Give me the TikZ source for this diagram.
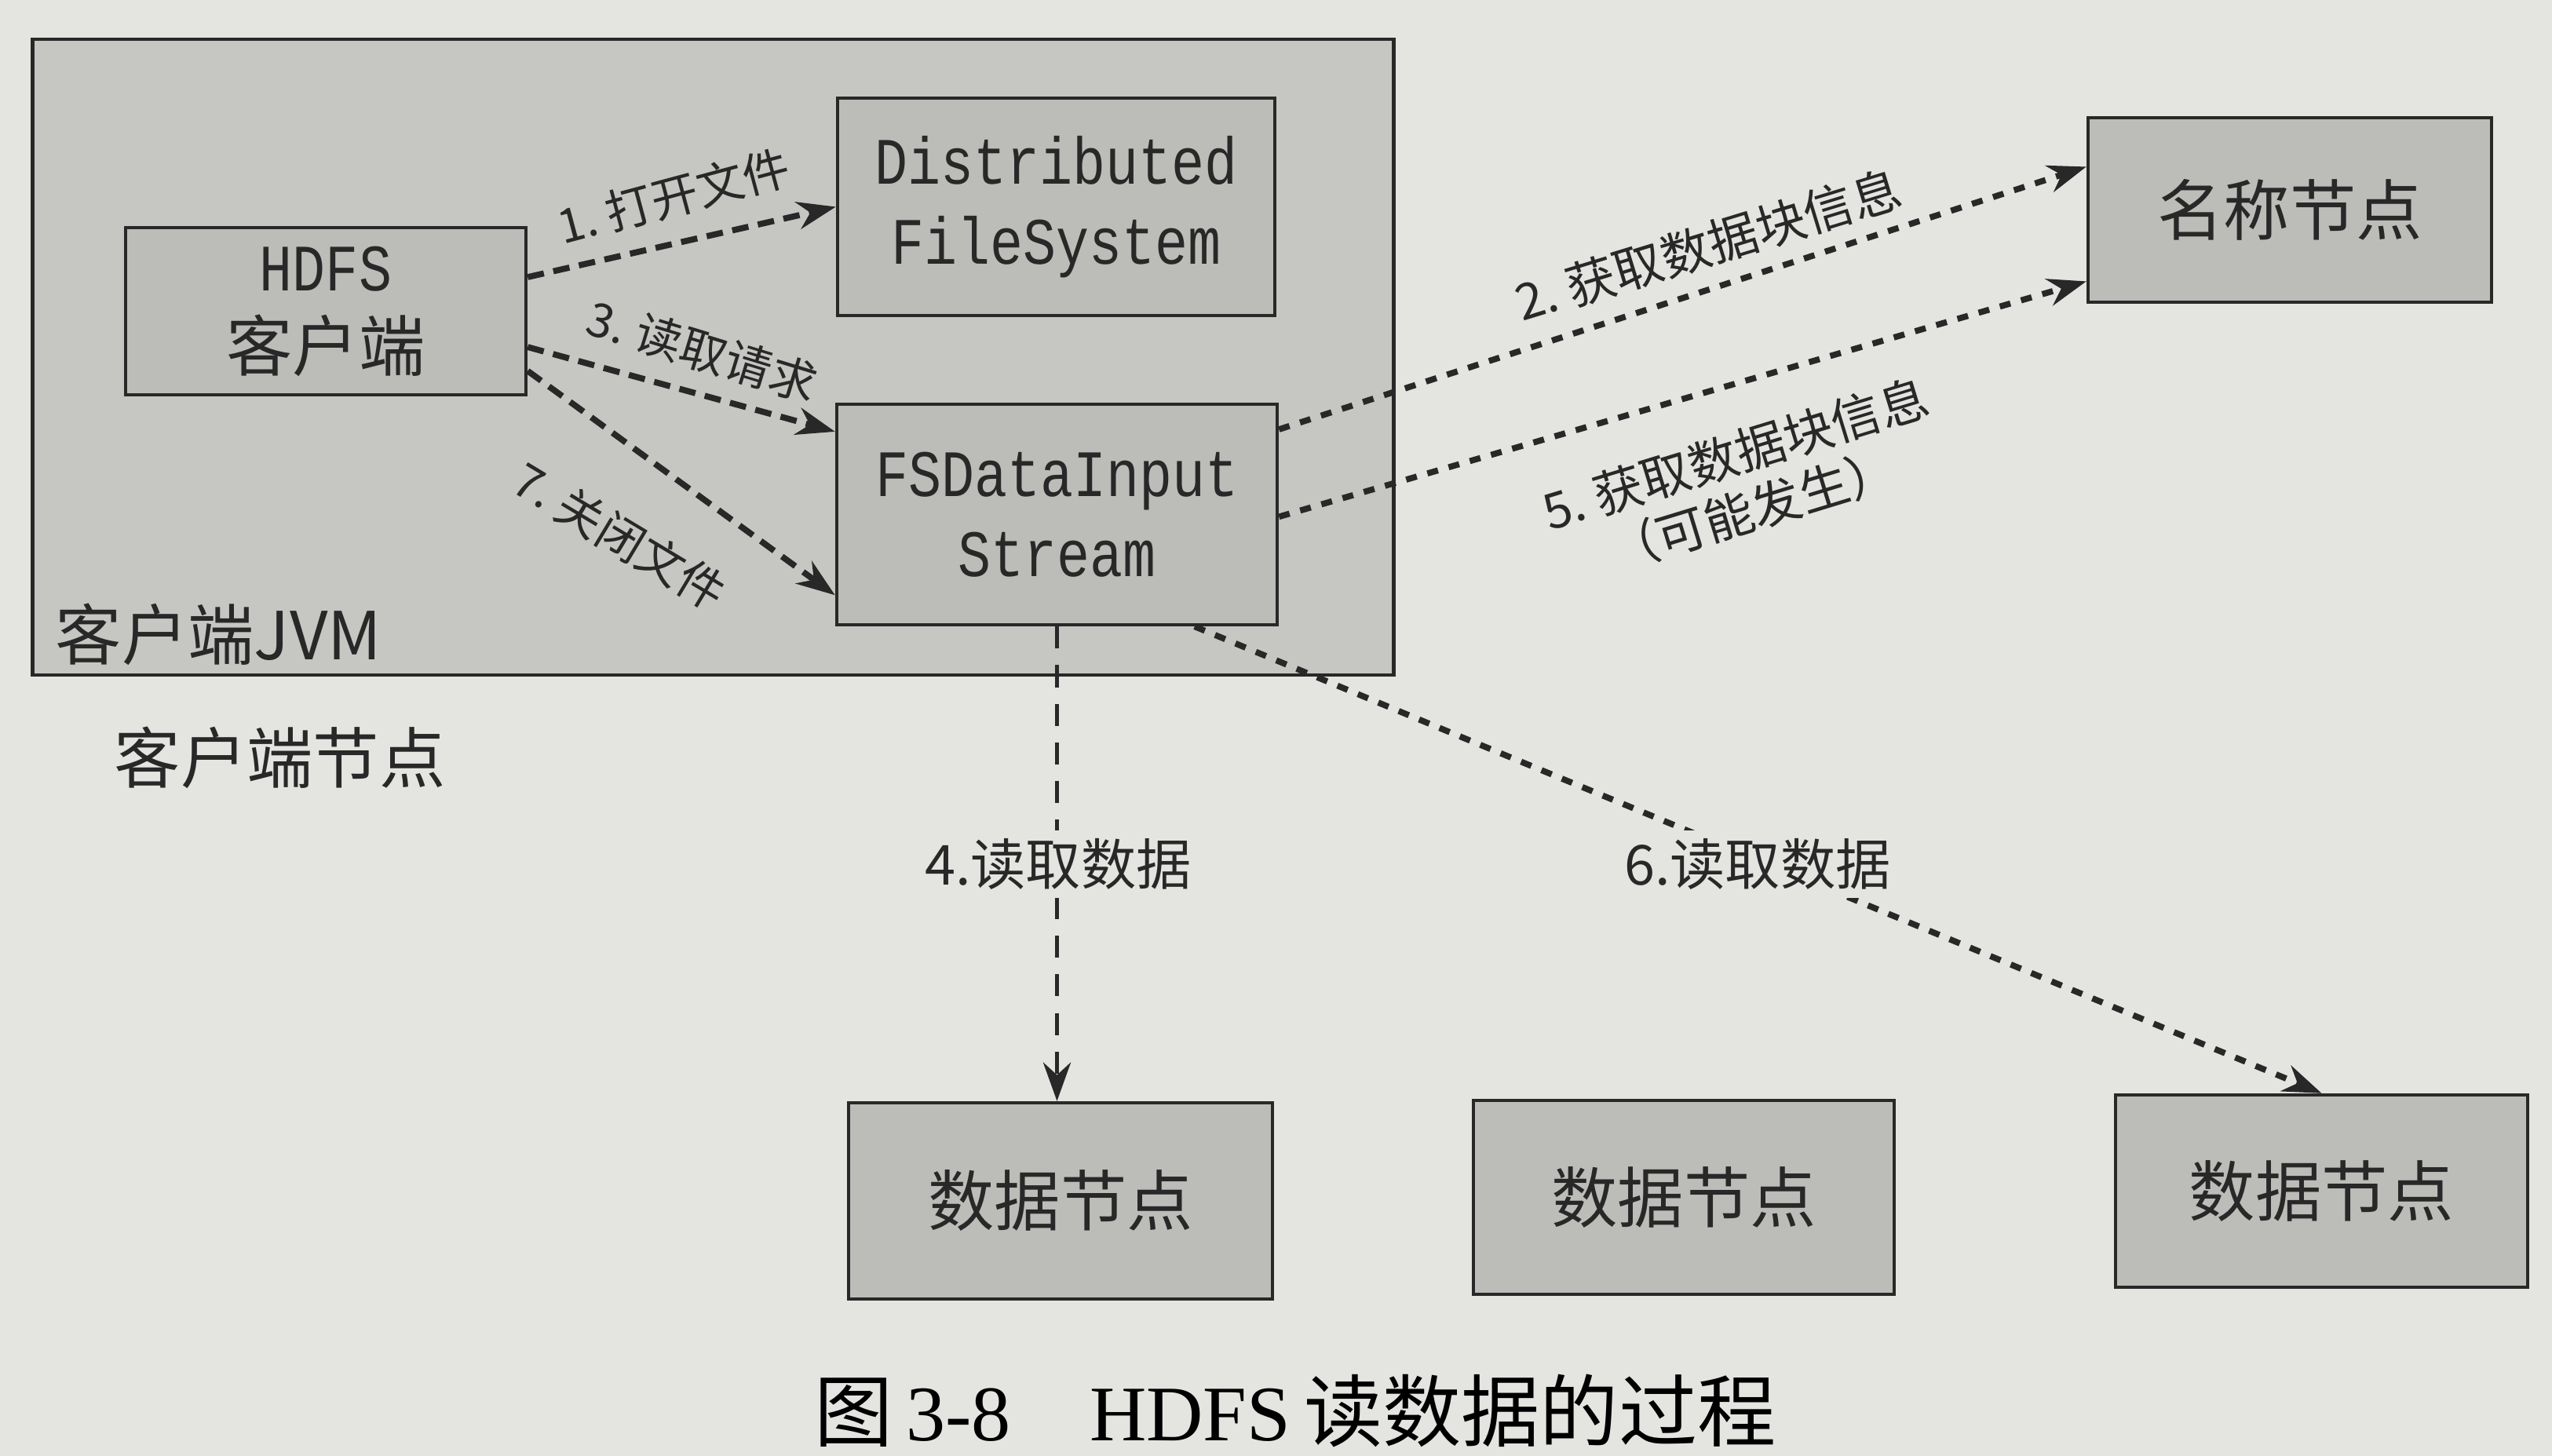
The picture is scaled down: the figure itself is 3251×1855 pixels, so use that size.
\documentclass[tikz,border=0pt]{standalone}
\usepackage{fontspec}
\setmainfont{Liberation Serif}
\newfontfamily\cjk{Noto Sans CJK SC}
\newfontfamily\mono[FakeStretch=0.83]{Liberation Mono}
\usetikzlibrary{arrows.meta,calc}
\definecolor{pagebg}{RGB}{228,228,225}
\definecolor{jvmfill}{RGB}{198,198,195}
\definecolor{boxfill}{RGB}{188,188,185}
\definecolor{ink}{RGB}{40,40,40}
\begin{document}
\begin{tikzpicture}[x=0.01cm,y=-0.01cm,
  box/.style={draw=ink, line width=1.2pt, fill=boxfill, text=ink, align=center, inner sep=0pt},
  jvmbox/.style={draw=ink, line width=1.2pt, fill=jvmfill, inner sep=0pt},
  boxtxt/.style={font=\fontsize{24pt}{29pt}\selectfont},
  conn/.style={draw=ink, line width=2.2pt, dash pattern=on 6pt off 3.5pt, -{Stealth[length=14pt,width=10pt]}},
  connfine/.style={draw=ink, line width=2.2pt, dash pattern=on 4pt off 4pt, -{Stealth[length=14pt,width=10pt]}},
  connlong/.style={draw=ink, line width=1.5pt, dash pattern=on 8pt off 6pt, -{Stealth[length=14pt,width=10pt]}},
  lab/.style={text=ink, font=\cjk\fontsize{17pt}{20pt}\selectfont, inner sep=1pt},
  biglab/.style={text=ink, font=\cjk\fontsize{18pt}{21pt}\selectfont, inner sep=1pt, align=center},
  onlab/.style={text=ink, font=\cjk\fontsize{20pt}{23pt}\selectfont, fill=pagebg, inner sep=3pt}
]
\useasboundingbox (0,0) rectangle (3251,1855);
\fill[pagebg] (0,0) rectangle (3251,1855);

% client JVM container
\node[jvmbox, minimum width=17.33cm, minimum height=8.10cm] (jvm) at (908.5,455) {};
\node[text=ink, font=\cjk\fontsize{24pt}{28pt}\selectfont, anchor=west, inner sep=0pt] (jvmlab) at (70,808) {客户端JVM};
\node[text=ink, font=\cjk\fontsize{24pt}{28pt}\selectfont, anchor=west, inner sep=0pt] (nodelab) at (145,965) {客户端节点};

% boxes
\node[box, boxtxt, minimum width=5.10cm, minimum height=2.13cm] (hdfs) at (415,396.5) {{\mono HDFS}\\{\cjk 客户端}};
\node[box, boxtxt, minimum width=5.57cm, minimum height=2.77cm] (dfs) at (1345.5,263.5) {\mono Distributed\\\mono FileSystem};
\node[box, boxtxt, minimum width=5.61cm, minimum height=2.81cm] (fsd) at (1346.5,655.5) {\mono FSDataInput\\\mono Stream};
\node[box, font=\cjk\fontsize{24pt}{28pt}\selectfont, minimum width=5.14cm, minimum height=2.35cm] (name) at (2917,267.5) {名称节点};
\node[box, font=\cjk\fontsize{24pt}{28pt}\selectfont, minimum width=5.40cm, minimum height=2.50cm] (dn1) at (1351,1530) {数据节点};
\node[box, font=\cjk\fontsize{24pt}{28pt}\selectfont, minimum width=5.36cm, minimum height=2.47cm] (dn2) at (2145,1525.5) {数据节点};
\node[box, font=\cjk\fontsize{24pt}{28pt}\selectfont, minimum width=5.25cm, minimum height=2.45cm] (dn3) at (2957.5,1517.5) {数据节点};

% connectors inside JVM
\draw[conn] ($(hdfs.north east)!0.30!(hdfs.south east)$) -- (dfs.west);
\draw[conn] ($(hdfs.north east)!0.71!(hdfs.south east)$) -- ($(fsd.north west)!0.13!(fsd.south west)$);
\draw[conn] ($(hdfs.north east)!0.85!(hdfs.south east)$) -- ($(fsd.north west)!0.86!(fsd.south west)$);

% to name node
\draw[connfine] ($(fsd.north east)!0.12!(fsd.south east)$) -- ($(name.north west)!0.27!(name.south west)$);
\draw[connfine] ($(fsd.north east)!0.51!(fsd.south east)$) -- ($(name.north west)!0.88!(name.south west)$);

% to data nodes
\draw[connlong] (fsd.south) -- (fsd.south |- dn1.north);
\draw[connfine] ($(fsd.south west)!0.81!(fsd.south east)$) -- (dn3.north);

% labels
\node[lab, rotate=15] (l1) at (858,250) {1.\ 打开文件};
\node[lab, rotate=-17] (l3) at (895,447) {3.\ 读取请求};
\node[lab, rotate=-31] (l7) at (790,683) {7.\ 关闭文件};
\node[biglab, rotate=17] (l2) at (2176,312) {2.\ 获取数据块信息};
\node[biglab, rotate=17] (l5) at (2222,614) {5.\ 获取数据块信息\\（可能发生）};
\node[onlab] (l4) at (1348,1101) {4.读取数据};
\node[onlab] (l6) at (2239,1101) {6.读取数据};

% caption
\node[text=black, font=\fontsize{28.5pt}{33pt}\selectfont, inner sep=0pt] (cap) at (1650,1797) {{\cjk 图}\,3-8\quad HDFS\,{\cjk 读数据的过程}};
\end{tikzpicture}
\end{document}
